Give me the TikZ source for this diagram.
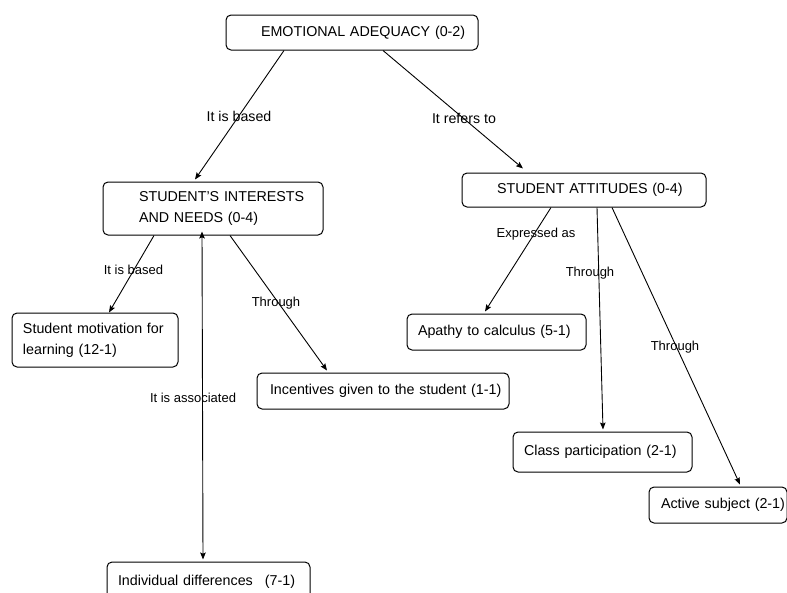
\documentclass[tikz,border=0pt]{standalone}
\usepackage{fontspec}
\setmainfont{Liberation Sans}
\usetikzlibrary{arrows.meta}
\tikzset{
  box/.style={draw=black, line width=1pt, rounded corners=5pt, inner xsep=4pt, inner ysep=0pt,
    align=left, font=\fontsize{14.3}{21}\selectfont},
  lbl/.style={inner sep=0pt, font=\fontsize{13}{15}\selectfont},
  lblbig/.style={inner sep=0pt, font=\fontsize{14.2}{16}\selectfont},
  conn/.style={line width=0.9pt, -{Stealth[length=7pt,width=5.5pt,inset=1.2pt]}},
  conn2/.style={line width=0.9pt, {Stealth[length=7pt,width=5.5pt,inset=1.2pt]}-{Stealth[length=7pt,width=5.5pt,inset=1.2pt]}}
}
\begin{document}
\begin{tikzpicture}[x=1pt,y=-1pt]
\useasboundingbox (0,0) rectangle (787,592);
\clip (0,0) rectangle (787,592);
\node[box, minimum width=252pt, minimum height=35pt, text width=244pt] (emo) at (352,32.5) {\hspace*{31pt}\mbox{EMOTIONAL ADEQUACY (0-2)}};
\node[box, minimum width=220pt, minimum height=53pt, text width=212pt] (sii) at (213,208.5) {\hspace*{32pt}STUDENT'S INTERESTS\\\hspace*{32pt}AND NEEDS (0-4)};
\node[box, minimum width=244pt, minimum height=34pt, text width=236pt] (att) at (584,190) {\hspace*{31pt}\mbox{STUDENT ATTITUDES (0-4)}};
\node[box, minimum width=166pt, minimum height=54pt, text width=158pt] (mot) at (95,340) {\hspace*{7pt}Student motivation for\\\hspace*{7pt}learning (12-1)};
\node[box, minimum width=252pt, minimum height=36pt, text width=244pt] (inc) at (383,391) {\hspace*{9pt}\mbox{Incentives given to the student (1-1)}};
\node[box, minimum width=179pt, minimum height=36pt, text width=171pt] (apa) at (496.5,332) {\hspace*{7pt}\mbox{Apathy to calculus (5-1)}};
\node[box, minimum width=179pt, minimum height=40pt, text width=171pt] (cls) at (602.5,452) {\hspace*{7pt}\mbox{Class participation (2-1)}};
\node[box, minimum width=138pt, minimum height=36pt, text width=130pt] (act) at (718,505) {\hspace*{8pt}\mbox{Active subject (2-1)}};
\node[box, minimum width=203pt, minimum height=40pt, text width=195pt] (ind) at (208.5,582) {\hspace*{7pt}\mbox{Individual differences\hspace{12pt}(7-1)}};

\draw[conn] ([xshift=-68pt]emo.south) -- ([xshift=-18pt,yshift=2pt]sii.north)
  node[lblbig] (l1) at (239,116) {It is based};
\draw[conn] ([xshift=31pt]emo.south) -- ([xshift=-61pt,yshift=4pt]att.north)
  node[lblbig] (l2) at (464,118) {It refers to};
\draw[conn] ([xshift=-59pt]sii.south) -- ([xshift=14pt]mot.north)
  node[lbl] (l3) at (133.5,270) {It is based};
\draw[conn] ([xshift=17pt]sii.south) -- ([xshift=-56pt,yshift=2pt]inc.north)
  node[lbl] (l4) at (276,303) {Through};
\draw[conn2] ([xshift=-11pt,yshift=4pt]sii.south) -- ([xshift=-5.5pt,yshift=2pt]ind.north)
  node[lbl] (l5) at (193,398) {It is associated};
\draw[conn] ([xshift=-33pt]att.south) -- ([xshift=-11.5pt,yshift=2pt]apa.north)
  node[lbl] (l6) at (536,234) {Expressed as};
\draw[conn] ([xshift=13pt]att.south) -- ([xshift=0.5pt,yshift=2pt]cls.north)
  node[lbl] (l7) at (590,273) {Through};
\draw[conn] ([xshift=28pt]att.south) -- ([xshift=22pt,yshift=2pt]act.north)
  node[lbl] (l8) at (675,347) {Through};
\end{tikzpicture}
\end{document}
